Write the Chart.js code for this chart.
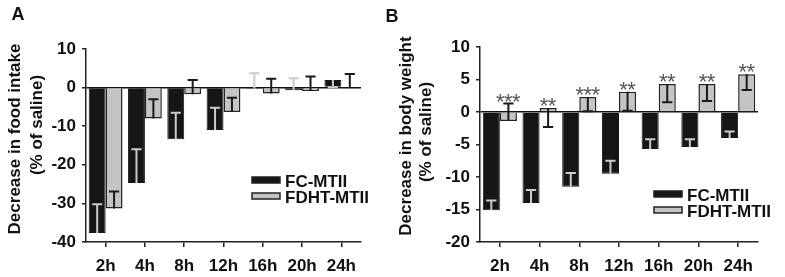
<!DOCTYPE html>
<html>
<head>
<meta charset="utf-8">
<script src="https://cdn.jsdelivr.net/npm/chart.js@4.4.0/dist/chart.umd.min.js"></script>
<style>
html, body { margin: 0; padding: 0; background: #fff; }
#wrap { position: relative; width: 785px; height: 277px; }
.panel { position: absolute; top: 0; height: 277px; }
#pa { left: 0; width: 385px; }
#pb { left: 385px; width: 400px; }
</style>
</head>
<body>
<div id="wrap">
  <div class="panel" id="pa"><canvas id="chartA"></canvas></div>
  <div class="panel" id="pb"><canvas id="chartB"></canvas></div>
</div>
<script>
const hours = ['2h', '4h', '8h', '12h', '16h', '20h', '24h'];

// panel A - food intake
const foodFC = [-37.7, -24.7, -13.4, -11.0, -0.3, -0.7, 2.0];
const foodFCErr = [7.5, 8.7, 6.9, 5.8, 4.0, 3.1, 1.9];
const foodFDHT = [-31.3, -8.0, -1.7, -6.3, -1.5, -0.9, -0.1];
const foodFDHTErr = [4.4, 5.0, 3.7, 3.7, 3.8, 3.8, 3.6];
const foodTicks = { min: -40, max: 10, step: 10 };

// panel B - body weight
const bodyFC = [-15.1, -14.0, -11.5, -9.5, -5.7, -5.4, -4.0];
const bodyFCErr = [1.5, 2.0, 2.1, 2.0, 1.5, 1.2, 1.0];
const bodyFDHT = [-1.4, 0.6, 2.3, 3.1, 4.3, 4.3, 5.8];
const bodyFDHTErr = [2.7, 2.9, 2.2, 2.9, 2.8, 2.6, 2.4];
const bodyStars = ['***', '**', '***', '**', '**', '**', '**'];
const bodyTicks = { min: -20, max: 10, step: 5 };

const FONT = "'Liberation Sans', Arial, sans-serif";

// error bars, stars, titles and legend drawn on top
const decor = {
  id: 'decor',
  afterDatasetsDraw(chart, args, o) {
    const ctx = chart.ctx;
    const ys = chart.scales.y;
    ctx.save();
    chart.data.datasets.forEach((ds, di) => {
      const meta = chart.getDatasetMeta(di);
      meta.data.forEach((bar, i) => {
        const v = ds.data[i];
        const end = v > 0 ? v - ds.err[i] : v + ds.err[i];
        const x = bar.x;
        const y0 = ys.getPixelForValue(v);
        const y1 = ys.getPixelForValue(end);
        const cap = bar.width * 0.3;
        ctx.strokeStyle = ds.errColor;
        ctx.lineWidth = 2;
        ctx.beginPath();
        ctx.moveTo(x, y0); ctx.lineTo(x, y1);
        ctx.moveTo(x - cap, y1); ctx.lineTo(x + cap, y1);
        ctx.stroke();
      });
    });
    if (o.stars) {
      const ds = chart.data.datasets[1];
      const meta = chart.getDatasetMeta(1);
      ctx.fillStyle = '#555';
      ctx.font = '22px ' + FONT;
      ctx.textAlign = 'center';
      ctx.textBaseline = 'alphabetic';
      const m = ctx.measureText('*');
      meta.data.forEach((bar, i) => {
        const v = ds.data[i];
        const end = v > 0 ? v - ds.err[i] : v + ds.err[i];
        const top = ys.getPixelForValue(Math.max(v, end, 0));
        const cy = top - 6;
        const base = cy - (m.actualBoundingBoxDescent - m.actualBoundingBoxAscent) / 2;
        const n = o.stars[i].length;
        for (let k = 0; k < n; k++) {
          ctx.fillText('*', bar.x + (k - (n - 1) / 2) * 8, base);
        }
      });
    }
    ctx.restore();
  },
  afterDraw(chart, args, o) {
    const ctx = chart.ctx;
    ctx.save();
    ctx.fillStyle = '#111';
    ctx.font = 'bold 18px ' + FONT;
    ctx.textAlign = 'center';
    ctx.textBaseline = 'middle';
    ctx.fillText(o.letter, o.letterX, o.letterY);

    ctx.font = 'bold 17px ' + FONT;
    o.titles.forEach(t => {
      ctx.save();
      ctx.translate(t.x, t.y);
      ctx.rotate(-Math.PI / 2);
      ctx.fillText(t.text, 0, 0);
      ctx.restore();
    });

    const lg = o.legend;
    ctx.textAlign = 'left';
    chart.data.datasets.forEach((ds, di) => {
      const y = lg.y + di * lg.gap;
      ctx.fillStyle = ds.backgroundColor;
      ctx.fillRect(lg.x, y - 3, 28, 6);
      ctx.strokeStyle = '#222';
      ctx.lineWidth = 1.5;
      ctx.strokeRect(lg.x, y - 3, 28, 6);
      ctx.fillStyle = '#111';
      ctx.fillText(ds.label, lg.x + 33, y + 2);
    });
    ctx.restore();
  }
};

function makeChart(id, fc, fcErr, fdht, fdhtErr, ticks, pad, yWidth, decorOpts) {
  return new Chart(document.getElementById(id), {
    type: 'bar',
    data: {
      labels: hours,
      datasets: [{
        label: 'FC-MTII',
        data: fc,
        err: fcErr,
        errColor: '#cccccc',
        backgroundColor: '#161616',
        borderColor: '#161616',
        borderWidth: 1
      }, {
        label: 'FDHT-MTII',
        data: fdht,
        err: fdhtErr,
        errColor: '#1a1a1a',
        backgroundColor: '#c4c4c4',
        borderColor: '#222',
        borderWidth: 1.5
      }]
    },
    options: {
      responsive: true,
      maintainAspectRatio: false,
      animation: false,
      layout: { padding: pad },
      datasets: { bar: { categoryPercentage: 0.86, barPercentage: 1 } },
      plugins: {
        legend: { display: false },
        tooltip: { enabled: false },
        decor: decorOpts
      },
      scales: {
        x: {
          afterFit: s => { s.height = 35; },
          grid: { drawOnChartArea: false, offset: false, tickLength: 5, tickColor: '#222', lineWidth: 1.5 },
          border: { color: '#222', width: 1.5 },
          ticks: { color: '#111', font: { family: FONT, size: 17, weight: 'bold' }, padding: 9, maxRotation: 0, autoSkip: false }
        },
        y: {
          min: ticks.min,
          max: ticks.max,
          afterFit: s => { s.width = yWidth; },
          grid: {
            color: c => c.tick && c.tick.value === 0 ? '#111' : 'rgba(0,0,0,0)',
            lineWidth: 1.5,
            tickLength: 4,
            tickColor: '#222'
          },
          border: { color: '#222', width: 1.5 },
          ticks: { stepSize: ticks.step, color: '#111', font: { family: FONT, size: 17, weight: 'bold' }, padding: 6 }
        }
      }
    },
    plugins: [decor]
  });
}

makeChart('chartA', foodFC, foodFCErr, foodFDHT, foodFDHTErr, foodTicks,
  { top: 49, right: 24, bottom: 0, left: 0 }, 86, {
    letter: 'A', letterX: 18, letterY: 15,
    titles: [
      { text: 'Decrease in food intake', x: 15, y: 139 },
      { text: '(% of saline)', x: 37, y: 125 }
    ],
    legend: { x: 252, y: 180, gap: 16 }
  });

makeChart('chartB', bodyFC, bodyFCErr, bodyFDHT, bodyFDHTErr, bodyTicks,
  { top: 47, right: 27, bottom: 0, left: 0 }, 95, {
    letter: 'B', letterX: 7, letterY: 17,
    stars: bodyStars,
    titles: [
      { text: 'Decrease in body weight', x: 21, y: 136 },
      { text: '(% of saline)', x: 41, y: 132 }
    ],
    legend: { x: 269, y: 194, gap: 16 }
  });
</script>
</body>
</html>
